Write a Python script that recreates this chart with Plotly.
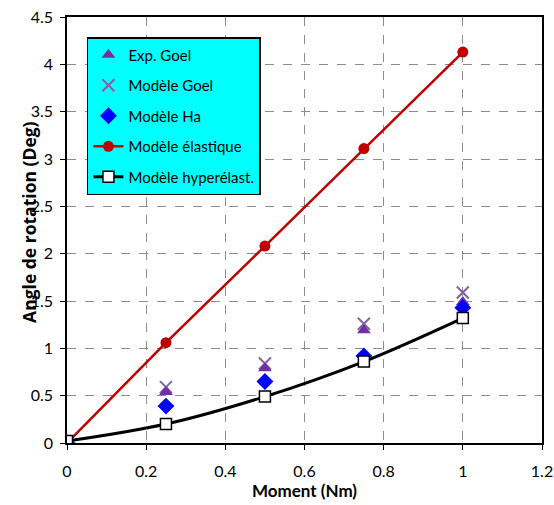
import plotly.graph_objects as go

moment = [0, 0.25, 0.5, 0.75, 1.0]
exp_goel = [0.0, 0.54, 0.79, 1.19, 1.49]
modele_goel = [0.0, 0.59, 0.84, 1.26, 1.59]
modele_ha = [0.0, 0.39, 0.65, 0.92, 1.43]
modele_elastique = [0.0, 1.06, 2.08, 3.11, 4.13]
modele_hyper = [0.02, 0.20, 0.49, 0.86, 1.32]

FONT = "Lato, 'Open Sans', sans-serif"

fig = go.Figure()
fig.add_trace(go.Scatter(x=moment, y=modele_goel, mode="markers", name="Modèle Goel",
                         legendgroup="b", legendrank=2,
                         marker=dict(symbol="x-thin", size=12, color="#8064A2",
                                     line=dict(width=2, color="#8064A2"))))
fig.add_trace(go.Scatter(x=moment, y=exp_goel, mode="markers", name="Exp. Goel",
                         legendgroup="a", legendrank=1,
                         marker=dict(symbol="triangle-up", size=12, color="#7030A0")))
fig.add_trace(go.Scatter(x=moment, y=modele_ha, mode="markers", name="Modèle Ha",
                         legendgroup="c", legendrank=3,
                         marker=dict(symbol="diamond", size=13, color="#0000FF")))
fig.add_trace(go.Scatter(x=moment, y=modele_elastique, mode="lines+markers", name="Modèle élastique",
                         legendgroup="d", legendrank=4,
                         line=dict(color="#C00000", width=2.5),
                         marker=dict(symbol="circle", size=11, color="#C00000")))
fig.add_trace(go.Scatter(x=moment, y=modele_hyper, mode="lines+markers", name="Modèle hyperélast.",
                         legendgroup="e", legendrank=5,
                         line=dict(color="black", width=3, shape="spline"),
                         marker=dict(symbol="square", size=11, color="white",
                                     line=dict(color="black", width=1.5))))

axis_common = dict(
    showline=True, linecolor="black", linewidth=1.5, mirror=True,
    ticks="outside", ticklen=5, tickcolor="black", tickwidth=1,
    showgrid=True, gridcolor="#8c8c8c", griddash="dash", gridwidth=1,
    zeroline=False, automargin=False, ticklabeloverflow="allow",
    tickfont=dict(family=FONT, size=16, color="black"),
)

fig.update_xaxes(range=[0, 1.2], dtick=0.2, tick0=0, ticklabelstandoff=8,
                 title=dict(text="<b>Moment (Nm)</b>", font=dict(family=FONT, size=17, color="black"),
                            standoff=6),
                 **axis_common)
fig.update_yaxes(range=[0, 4.5], dtick=0.5, tick0=0, ticklabelstandoff=4,
                 **axis_common)

fig.add_annotation(text="<b>Angle de rotation (Deg)</b>", textangle=-90,
                   xref="paper", yref="paper", x=0, y=0.519,
                   xanchor="center", yanchor="middle", xshift=-38, showarrow=False,
                   font=dict(family="'Open Sans', sans-serif", size=17.5, color="black"))

fig.update_layout(
    width=554, height=505,
    margin=dict(l=67, r=12, t=17, b=62),
    plot_bgcolor="white", paper_bgcolor="white",
    font=dict(family=FONT, color="black"),
    legend=dict(x=0.042, y=0.953, xanchor="left", yanchor="top",
                bgcolor="#00FFFF", bordercolor="black", borderwidth=1.5,
                font=dict(family=FONT, size=15, color="black"),
                tracegroupgap=8, itemwidth=30),
    showlegend=True,
)

fig.write_html("out.html", config={"displayModeBar": False},
               post_script="document.body.style.margin='0';document.body.style.overflow='hidden';")
